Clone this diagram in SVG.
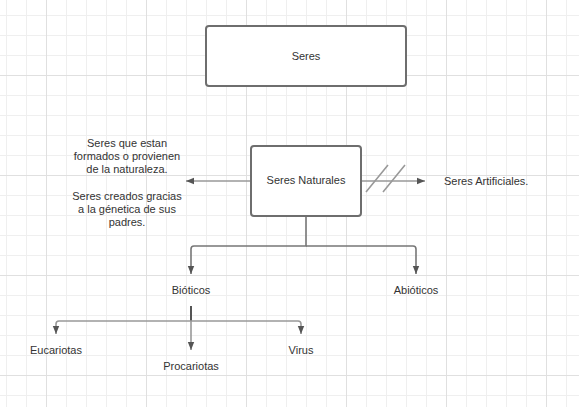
<svg xmlns="http://www.w3.org/2000/svg" width="579" height="407" viewBox="0 0 579 407">
<defs>
<pattern id="minor" width="20" height="20" patternUnits="userSpaceOnUse" x="6" y="15">
<path d="M0.5 0V20M0 0.5H20" stroke="#efefef" stroke-width="1" fill="none"/>
</pattern>
<pattern id="major" width="100" height="100" patternUnits="userSpaceOnUse" x="46" y="75">
<path d="M0.5 0V100M0 0.5H100" stroke="#e0e0e0" stroke-width="1" fill="none"/>
</pattern>
<marker id="arr" viewBox="0 0 10 10" refX="10" refY="5" markerWidth="8" markerHeight="8" markerUnits="userSpaceOnUse" orient="auto">
<path d="M0 1L10 5L0 9Z" fill="#555"/>
</marker>
</defs>
<style>
.box{fill:#fff;stroke:#6e6e6e;stroke-width:2}
.t{font-family:"Liberation Sans",Arial,sans-serif;font-size:11px;fill:#333;text-anchor:middle}
.c{fill:none;stroke:#777;stroke-width:1.6}
.cl{fill:none;stroke:#999;stroke-width:1.6}
</style>
<rect width="579" height="407" fill="#fff"/>
<rect width="579" height="407" fill="url(#minor)"/>
<rect width="579" height="407" fill="url(#major)"/>
<g id="connectors">
<path class="cl" d="M251 181H186" marker-end="url(#arr)"/>
<path class="cl" d="M361 181H425" marker-end="url(#arr)"/>
<path class="cl" d="M366 192L388 165M383 192L405 165"/>
<path class="c" d="M306 216V246H194Q191 246 191 249V274" marker-end="url(#arr)"/>
<path class="c" d="M306 246H413Q416 246 416 249V274" marker-end="url(#arr)"/>
<path class="c" d="M191 306V321" stroke="#555" style="stroke:#555;stroke-width:2"/>
<path class="cl" d="M191 321H59Q56 321 56 324V334" marker-end="url(#arr)"/>
<path class="cl" d="M191 321H298Q301 321 301 324V334" marker-end="url(#arr)"/>
<path class="cl" d="M191 321V350" marker-end="url(#arr)"/>
</g>
<g id="seres">
<rect class="box" x="206" y="26" width="200" height="60" rx="3"/>
<text class="t" x="306" y="60">Seres</text>
</g>
<g id="seres-naturales">
<rect class="box" x="251" y="146" width="110" height="70" rx="3"/>
<text class="t" x="306" y="184">Seres Naturales</text>
</g>
<g id="descripcion">
<text class="t" x="127" y="147">Seres que estan</text>
<text class="t" x="127" y="160">formados o provienen</text>
<text class="t" x="127" y="173">de la naturaleza.</text>
<text class="t" x="127" y="200">Seres creados gracias</text>
<text class="t" x="127" y="213">a la génetica de sus</text>
<text class="t" x="127" y="226">padres.</text>
</g>
<g id="seres-artificiales">
<text class="t" x="444" y="185" style="text-anchor:start">Seres Artificiales.</text>
</g>
<g id="bioticos"><text class="t" x="191" y="294">Bióticos</text></g>
<g id="abioticos"><text class="t" x="416" y="294">Abióticos</text></g>
<g id="eucariotas"><text class="t" x="56" y="354">Eucariotas</text></g>
<g id="procariotas"><text class="t" x="191" y="370">Procariotas</text></g>
<g id="virus"><text class="t" x="301" y="354">Virus</text></g>
</svg>
